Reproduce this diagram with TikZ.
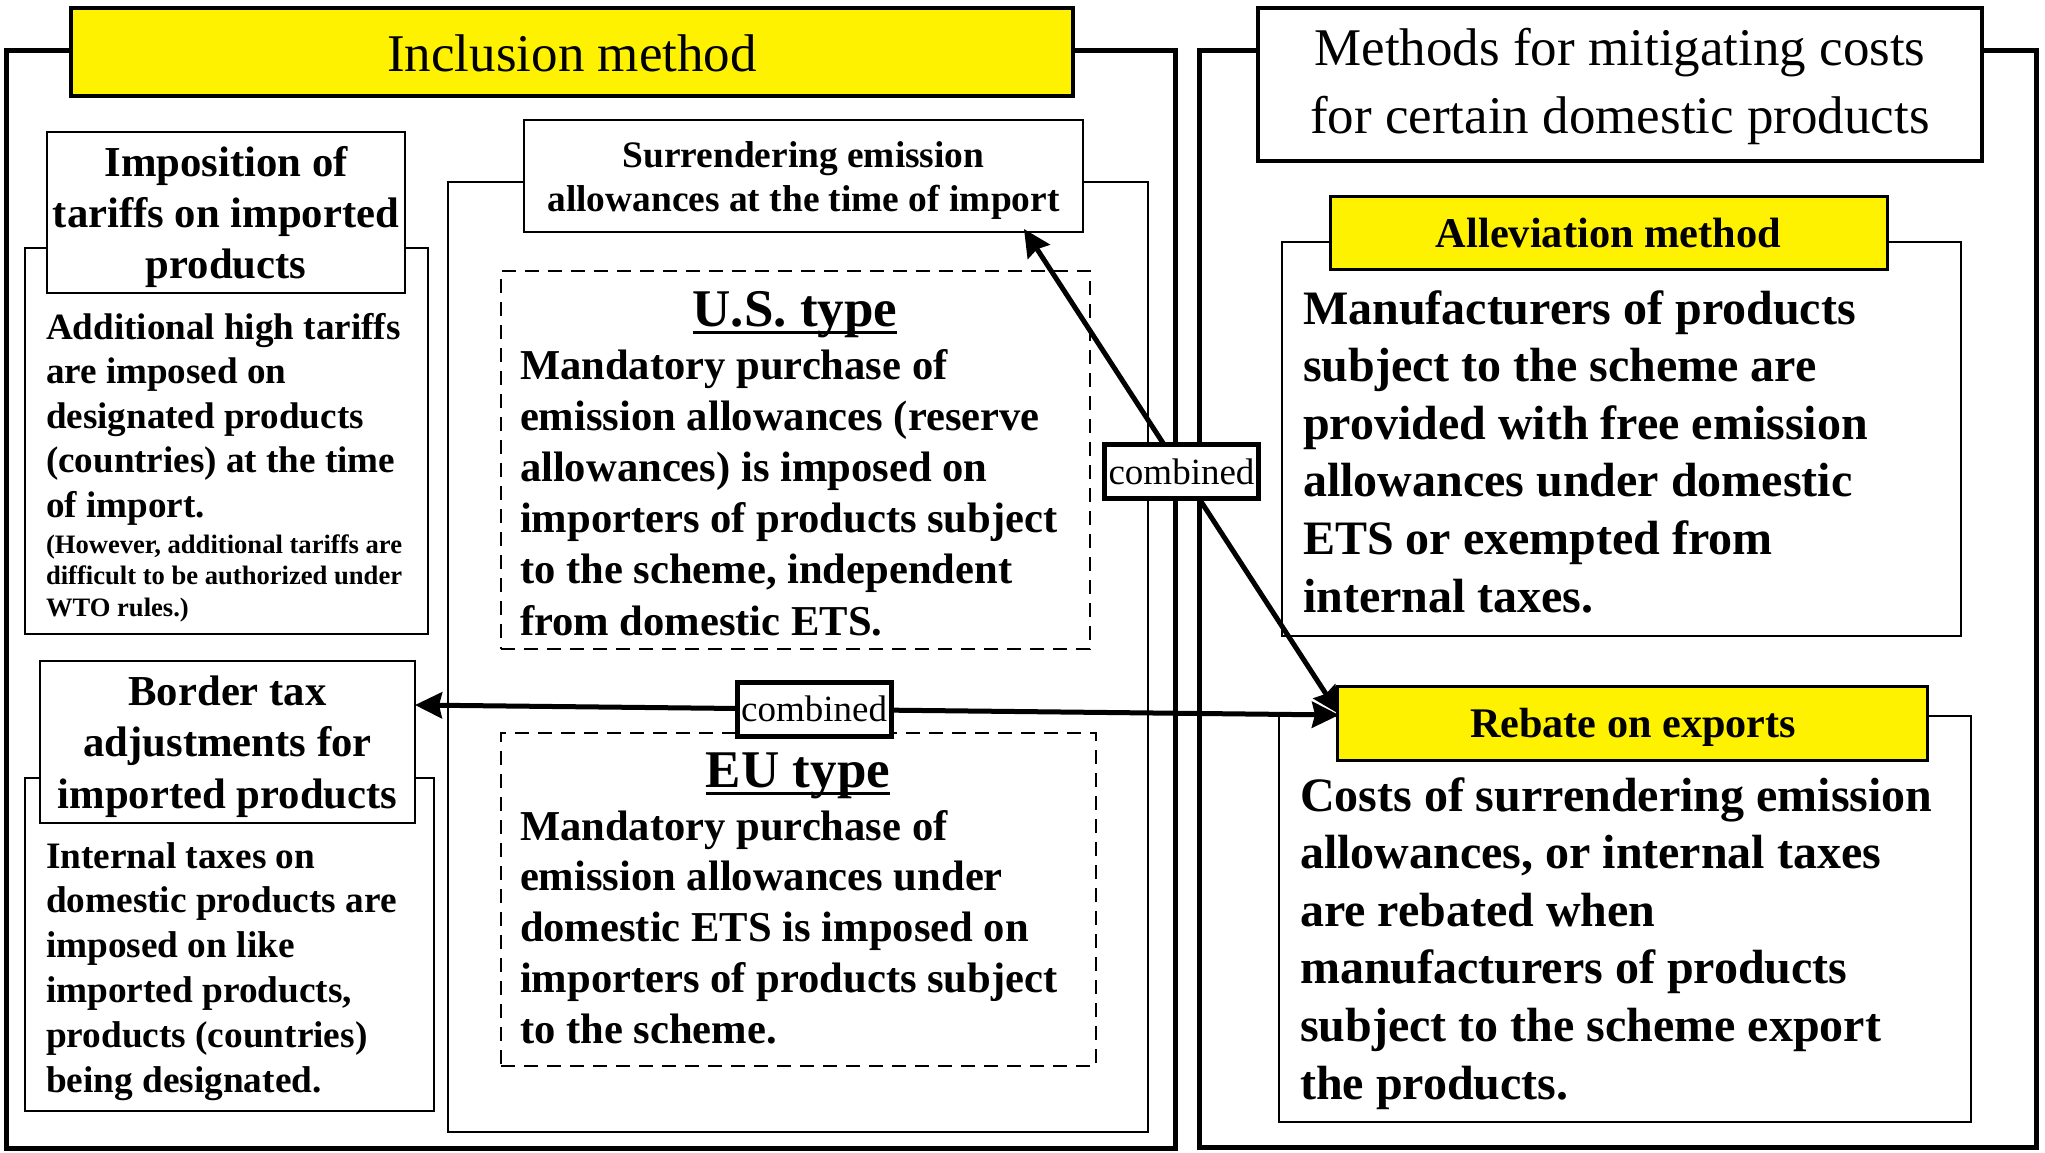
\documentclass[tikz,border=0pt]{standalone}
\usepackage{fontspec}
\setmainfont{Liberation Serif}
\usetikzlibrary{arrows.meta}
\newsavebox{\ulbox}
\newcommand{\ulined}[1]{\sbox{\ulbox}{#1}\rlap{\rule[-8pt]{\wd\ulbox}{3pt}}\usebox{\ulbox}}
\newcommand{\putbox}[6]{%
  \node[#1, anchor=north west, minimum width={(#5)-(#3)}, minimum height={(#6)-(#4)}] (#2) at (#3,#4) {};}
\begin{document}
\begin{tikzpicture}[x=1pt,y=-1pt,
  every node/.style={inner sep=0pt, outer sep=0pt},
  outerbox/.style={draw, line width=5pt, rectangle},
  yellowhead/.style={draw, fill=yellow, line width=4pt, rectangle},
  yellowsub/.style={draw, fill=yellow, line width=3pt, rectangle},
  titlebox/.style={draw, fill=white, line width=4.5pt, rectangle},
  headbox/.style={draw, fill=white, line width=2.5pt, rectangle},
  bodybox/.style={draw, line width=2.5pt, rectangle},
  dashbox/.style={draw, dash pattern=on 14pt off 9pt, line width=2.5pt, rectangle},
  txtl/.style={align=left, anchor=north west},
  txtc/.style={align=center, anchor=north},
  combo/.style={draw, fill=white, line width=5pt, rectangle, minimum width=154pt, minimum height=54pt, font=\fontsize{37}{44}\selectfont},
  conn/.style={line width=5pt, {Stealth[length=27pt,width=26pt,inset=3pt]}-{Stealth[length=27pt,width=26pt,inset=3pt]}}
]
\useasboundingbox (0,0) rectangle (2045,1152);
% outer frames
\putbox{outerbox}{leftOuter}{6}{50}{1175}{1148}
\putbox{outerbox}{rightOuter}{1199}{50}{2036}{1147}
\putbox{yellowhead}{inclH}{71}{8}{1073}{96}
\putbox{titlebox}{methH}{1258}{8}{1982}{161}
% middle container
\putbox{bodybox}{midBox}{448}{182}{1148}{1132}
\putbox{headbox}{surrH}{524}{120}{1083}{232}
% left column
\putbox{bodybox}{tariffBody}{25}{248}{428}{634}
\putbox{headbox}{tariffH}{47}{132}{405}{293}
\putbox{bodybox}{borderBody}{25}{778}{434}{1111}
\putbox{headbox}{borderH}{40}{661}{415}{823}
% dashed boxes
\putbox{dashbox}{usBox}{501}{271}{1090}{649}
\putbox{dashbox}{euBox}{501}{733}{1096}{1066}
% right column
\putbox{bodybox}{allevBody}{1282}{242}{1961}{636}
\putbox{yellowsub}{allevH}{1330}{196}{1887}{269}
\putbox{bodybox}{rebBody}{1279}{716}{1971}{1122}
\putbox{yellowsub}{rebH}{1337}{686}{1927}{760}

% texts
\node[anchor=base, font=\fontsize{53}{66}\selectfont] (inclT) at (572,71) {Inclusion method};
\node[txtc, font=\fontsize{53}{68}\selectfont] (methT) at (1620,17.4) {\strut Methods for mitigating costs\\for certain domestic products};
\node[txtc, font=\fontsize{37.4}{44}\selectfont\bfseries] (surrT) at (803.5,136.2) {\strut Surrendering emission\\allowances at the time of import};
\node[txtc, font=\fontsize{42.7}{51}\selectfont\bfseries] (tariffT) at (226,140.3) {\strut Imposition of\\tariffs on imported\\products};
\node[txtl, font=\fontsize{37.1}{44.5}\selectfont\bfseries] (tariffX) at (46,307.85) {\strut Additional high tariffs\\are imposed on\\designated products\\(countries) at the time\\of import.};
\node[txtl, font=\fontsize{26.6}{31.5}\selectfont\bfseries] (tariffN) at (46,530.95) {\strut (However, additional tariffs are\\difficult to be authorized under\\WTO rules.)};
\node[txtc, font=\fontsize{42.7}{51.5}\selectfont\bfseries] (borderT) at (227.5,668.95) {\strut Border tax\\adjustments for\\imported products};
\node[txtl, font=\fontsize{37.3}{44.8}\selectfont\bfseries] (borderX) at (46,836.64) {\strut Internal taxes on\\domestic products are\\imposed on like\\imported products,\\products (countries)\\being designated.};
\node[anchor=base, font=\fontsize{53}{64}\selectfont\bfseries] (usT) at (795,326) {\ulined{U.S. type}};
\node[txtl, font=\fontsize{42.6}{51.2}\selectfont\bfseries] (usX) at (520,343.16) {\strut Mandatory purchase of\\emission allowances (reserve\\allowances) is imposed on\\importers of products subject\\to the scheme, independent\\from domestic ETS.};
\node[anchor=base, font=\fontsize{53}{64}\selectfont\bfseries] (euT) at (798,787) {\ulined{EU type}};
\node[txtl, font=\fontsize{42.6}{50.8}\selectfont\bfseries] (euX) at (520,804.44) {\strut Mandatory purchase of\\emission allowances under\\domestic ETS is imposed on\\importers of products subject\\to the scheme.};
\node[anchor=base, font=\fontsize{42.4}{51}\selectfont\bfseries] (allevT) at (1608.5,247) {Alleviation method};
\node[txtl, font=\fontsize{48}{57.6}\selectfont\bfseries] (allevX) at (1303,283.68) {\strut Manufacturers of products\\subject to the scheme are\\provided with free emission\\allowances under domestic\\ETS or exempted from\\internal taxes.};
\node[anchor=base, font=\fontsize{42.2}{51}\selectfont\bfseries] (rebT) at (1633,737) {Rebate on exports};
\node[txtl, font=\fontsize{48}{57.6}\selectfont\bfseries] (rebX) at (1300,770.68) {\strut Costs of surrendering emission\\allowances, or internal taxes\\are rebated when\\manufacturers of products\\subject to the scheme export\\the products.};

% connectors
\coordinate (surrTip) at (1024,229);
\coordinate (rebTipA) at (1339,714);
\coordinate (bordTip) at (415,705);
\coordinate (rebTipB) at (1339,715);
\draw[conn] (rebTipA) -- node[combo, pos=0.5] (comb1) {combined} (surrTip);
\draw[conn] (bordTip) -- node[combo, pos=0.432] (comb2) {combined} (rebTipB);
\end{tikzpicture}
\end{document}
